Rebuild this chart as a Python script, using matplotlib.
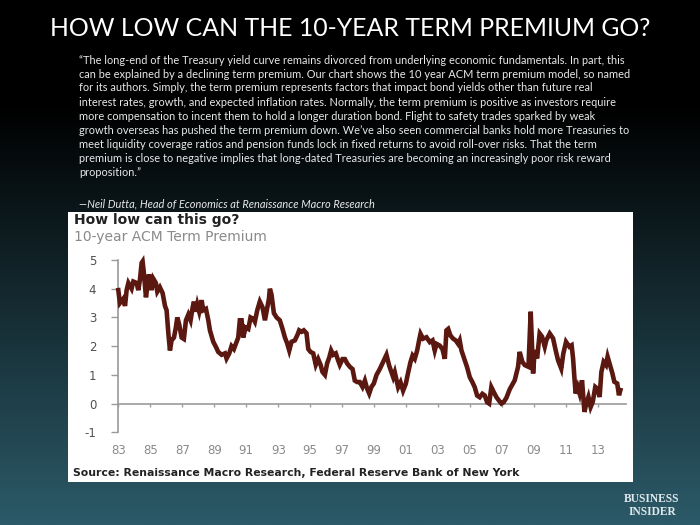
import numpy as np
import matplotlib.pyplot as plt
from matplotlib.patches import Rectangle

# 10-year ACM term premium (year, percent)
yrs = [1983.00, 1983.10, 1983.31, 1983.42, 1983.52, 1983.63, 1983.83, 1983.94,
       1984.15, 1984.25, 1984.35, 1984.46, 1984.52, 1984.60, 1984.73, 1984.81,
       1984.92, 1985.08, 1985.19, 1985.35, 1985.44, 1985.60, 1985.77, 1985.92,
       1986.02, 1986.13, 1986.23, 1986.33, 1986.48, 1986.60, 1986.69, 1986.81,
       1986.96, 1987.10, 1987.23, 1987.38, 1987.52, 1987.65, 1987.73, 1987.85,
       1987.94, 1988.06, 1988.21, 1988.31, 1988.48, 1988.63, 1988.73, 1988.94,
       1989.10, 1989.25, 1989.46, 1989.67, 1989.77, 1989.94, 1990.08, 1990.23,
       1990.40, 1990.50, 1990.60, 1990.71, 1990.81, 1990.96, 1991.13, 1991.27,
       1991.44, 1991.54, 1991.69, 1991.85, 1992.02, 1992.17, 1992.27, 1992.42,
       1992.48, 1992.58, 1992.73, 1992.90, 1993.10, 1993.27, 1993.42, 1993.56,
       1993.69, 1993.83, 1994.04, 1994.21, 1994.31, 1994.46, 1994.60, 1994.77,
       1994.88, 1995.02, 1995.19, 1995.35, 1995.50, 1995.65, 1995.77, 1995.92,
       1996.06, 1996.19, 1996.31, 1996.44, 1996.60, 1996.75, 1996.85, 1997.02,
       1997.17, 1997.31, 1997.48, 1997.65, 1997.79, 1997.94, 1998.10, 1998.27,
       1998.42, 1998.56, 1998.69, 1998.83, 1998.98, 1999.15, 1999.35, 1999.60,
       1999.77, 1999.94, 2000.19, 2000.29, 2000.50, 2000.65, 2000.81, 2000.98,
       2001.13, 2001.27, 2001.40, 2001.54, 2001.69, 2001.81, 2001.90, 2002.06,
       2002.27, 2002.48, 2002.65, 2002.79, 2002.90, 2003.10, 2003.27, 2003.42,
       2003.52, 2003.63, 2003.77, 2003.94, 2004.10, 2004.25, 2004.35, 2004.46,
       2004.67, 2004.81, 2004.98, 2005.15, 2005.29, 2005.44, 2005.60, 2005.77,
       2005.92, 2006.06, 2006.19, 2006.33, 2006.48, 2006.65, 2006.81, 2006.96,
       2007.10, 2007.27, 2007.48, 2007.79, 2008.00, 2008.10, 2008.27, 2008.42,
       2008.65, 2008.79, 2008.86, 2008.94, 2009.04, 2009.19, 2009.35, 2009.50,
       2009.67, 2009.77, 2009.98, 2010.19, 2010.35, 2010.50, 2010.70, 2010.83,
       2011.00, 2011.21, 2011.35, 2011.44, 2011.52, 2011.60, 2011.73, 2011.85,
       2012.00, 2012.15, 2012.27, 2012.40, 2012.54, 2012.67, 2012.83, 2012.96,
       2013.10, 2013.21, 2013.35, 2013.50, 2013.60, 2013.75, 2013.90, 2014.02,
       2014.20, 2014.31, 2014.40]
tp = [3.95, 3.5, 3.65, 3.4, 3.95, 4.2, 4.0, 4.25,
      4.2, 3.95, 4.3, 4.9, 4.95, 4.55, 3.7, 4.05,
      4.5, 3.95, 4.35, 4.2, 3.9, 4.05, 3.85, 3.4,
      3.25, 2.45, 1.85, 2.2, 2.3, 2.65, 3.0, 2.75,
      2.3, 2.25, 2.9, 3.1, 2.9, 3.35, 3.55, 3.2,
      3.45, 3.2, 3.6, 3.25, 3.3, 2.9, 2.55, 2.15,
      1.98, 1.8, 1.7, 1.75, 1.57, 1.75, 2.0, 1.9,
      2.15, 2.3, 2.9, 2.9, 2.3, 2.65, 2.6, 3.0,
      2.95, 2.85, 3.25, 3.55, 3.35, 2.9, 3.2, 3.65,
      4.0, 3.8, 3.15, 3.0, 2.9, 2.6, 2.3, 2.1,
      1.85, 2.15, 2.2, 2.4, 2.55, 2.5, 2.55, 2.45,
      1.9, 1.8, 1.75, 1.35, 1.55, 1.35, 1.1, 1.0,
      1.4, 1.6, 1.85, 1.7, 1.75, 1.5, 1.35, 1.55,
      1.55, 1.4, 1.28, 1.2, 0.8, 0.75, 0.75, 0.58,
      0.8, 0.52, 0.35, 0.58, 0.7, 1.0, 1.2, 1.5,
      1.7, 1.32, 0.92, 1.09, 0.57, 0.74, 0.45, 0.69,
      1.09, 1.44, 1.67, 1.56, 1.85, 2.2, 2.43, 2.26,
      2.31, 2.14, 2.2, 1.85, 2.08, 2.02, 1.9, 1.56,
      2.55, 2.6, 2.37, 2.26, 2.2, 2.08, 2.2, 1.85,
      1.5, 1.27, 0.92, 0.74, 0.57, 0.28, 0.22, 0.34,
      0.28, 0.05, 0.0, 0.57, 0.4, 0.22, 0.1, 0.0,
      0.05, 0.2, 0.5, 0.81, 1.28, 1.8, 1.45, 1.34,
      1.28, 3.2, 2.2, 1.05, 1.86, 1.57, 2.44, 2.33,
      1.98, 2.21, 2.44, 2.27, 1.86, 1.51, 1.22, 1.74,
      2.15, 1.98, 2.03, 1.57, 0.93, 0.35, 0.58, 0.35,
      0.81, -0.29, 0.0, 0.23, -0.12, 0.06, 0.58, 0.52,
      0.23, 1.1, 1.45, 1.34, 1.63, 1.34, 1.05, 0.76,
      0.7, 0.29, 0.47]

xtick_yrs = list(range(1983, 2014, 2))
xtick_lbls = ["83", "85", "87", "89", "91", "93", "95", "97",
              "99", "01", "03", "05", "07", "09", "11", "13"]
ytick_vals = [-1, 0, 1, 2, 3, 4, 5]

quote = [
    "\u201cThe long-end of the Treasury yield curve remains divorced from underlying economic fundamentals. In part, this",
    "can be explained by a declining term premium. Our chart shows the 10 year ACM term premium model, so named",
    "for its authors. Simply, the term premium represents factors that impact bond yields other than future real",
    "interest rates, growth, and expected inflation rates. Normally, the term premium is positive as investors require",
    "more compensation to incent them to hold a longer duration bond. Flight to safety trades sparked by weak",
    "growth overseas has pushed the term premium down. We\u2019ve also seen commercial banks hold more Treasuries to",
    "meet liquidity coverage ratios and pension funds lock in fixed returns to avoid roll-over risks. That the term",
    "premium is close to negative implies that long-dated Treasuries are becoming an increasingly poor risk reward",
    "proposition.\u201d",
]

W, H = 700, 525
fig = plt.figure(figsize=(7, 5.25), dpi=100)

# slide background: black fading to dark teal
bg = fig.add_axes([0, 0, 1, 1])
t = np.linspace(0, 1, 300)
ramp = np.clip((t - 0.2) / 0.8, 0, 1)
bottom = np.array([44, 90, 104]) / 255
grad = ramp[:, None, None] * bottom[None, None, :]
bg.imshow(grad, extent=[0, 1, 0, 1], aspect="auto")
bg.add_patch(Rectangle((68 / W, 1 - 482 / H), 565 / W, 270 / H,
                       transform=bg.transAxes, facecolor="white", edgecolor="none"))
bg.set_xlim(0, 1)
bg.set_ylim(0, 1)
bg.axis("off")

fig.text(0.5, 1 - 28 / H, "HOW LOW CAN THE 10-YEAR TERM PREMIUM GO?", color="white",
         fontsize=17.9, family="Lato", ha="center", va="center")

for i, line in enumerate(quote):
    fig.text(79 / W, 1 - (60 + 14 * i) / H, line, color="#e8e8e8", fontsize=7.9,
             family="Lato", ha="left", va="center")
fig.text(79 / W, 1 - 203.5 / H, "\u2014Neil Dutta, Head of Economics at Renaissance Macro Research",
         color="#e8e8e8", fontsize=7.9, family="Lato", style="italic", ha="left", va="center")

# chart inside the white box
fig.text(74 / W, 1 - 220 / H, "How low can this go?", color="#222222", fontsize=10,
         fontweight="semibold", ha="left", va="center")
fig.text(74 / W, 1 - 236.5 / H, "10-year ACM Term Premium", color="#8a8a8a", fontsize=10,
         ha="left", va="center")
fig.text(73 / W, 1 - 472.5 / H,
         "Source: Renaissance Macro Research, Federal Reserve Bank of New York",
         color="#222222", fontsize=7.8, fontweight="bold", ha="left", va="center")

ax = fig.add_axes([118.3 / W, 1 - 432.3 / H, (626 - 118.3) / W, (432.3 - 260) / H])
ax.set_facecolor("none")
ax.plot(yrs, tp, color="#5a1810", lw=3.3, solid_joinstyle="miter", clip_on=False, zorder=3)
ax.set_xlim(1983, 2014.75)
ax.set_ylim(-1, 5)
for s in ["top", "right"]:
    ax.spines[s].set_visible(False)
ax.spines["bottom"].set_position(("data", 0))
ax.spines["left"].set_color("#9a9a9a")
ax.spines["bottom"].set_color("#9a9a9a")
ax.spines["left"].set_linewidth(1.2)
ax.spines["bottom"].set_linewidth(1.2)
ax.set_yticks(ytick_vals)
ax.set_yticklabels([str(v) for v in ytick_vals])
ax.set_xticks(xtick_yrs)
ax.set_xticklabels(xtick_lbls)
ax.tick_params(axis="y", direction="out", length=4.8, width=1, color="#9a9a9a",
               labelcolor="#505050", labelsize=8.5, pad=11)
ax.tick_params(axis="x", direction="out", length=2.4, width=1, color="#9a9a9a",
               labelcolor="#8a8a8a", labelsize=8.5, pad=27)

# Business Insider mark
fig.text(652 / W, 1 - 499 / H, "BUSINESS", color="#dfe8ec", fontsize=8.3,
         family="Liberation Serif", fontweight="bold", ha="center", va="center")
fig.text(652 / W, 1 - 512 / H, "INSIDER", color="#dfe8ec", fontsize=8.3,
         family="Liberation Serif", fontweight="bold", ha="center", va="center")

fig.savefig("out.png", dpi=100)
